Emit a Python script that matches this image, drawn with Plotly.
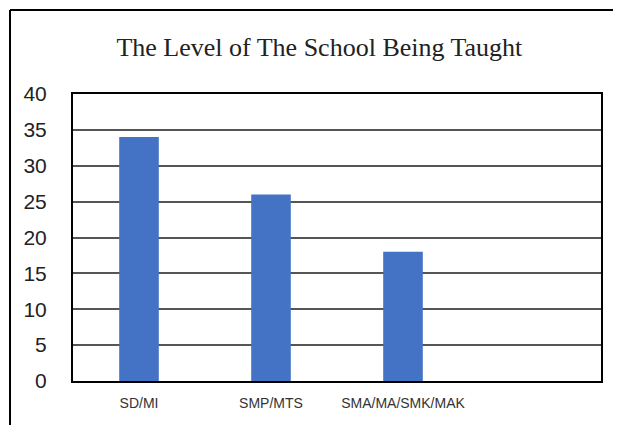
import plotly.graph_objects as go

levels = ["SD/MI", "SMP/MTS", "SMA/MA/SMK/MAK"]
teachers = [34, 26, 18]
y_ticks = [0, 5, 10, 15, 20, 25, 30, 35, 40]

fig = go.Figure()
fig.add_trace(
    go.Bar(
        x=list(range(len(levels))),
        y=teachers,
        width=0.3,
        marker=dict(color="#4472C4", line=dict(width=0)),
    )
)

# outer frame (only the left and top edges show)
frame = dict(color="black", width=2)
fig.add_shape(type="line", xref="paper", yref="paper", x0=-0.1193, x1=-0.1193, y0=1.2927, y1=-0.2, line=frame)
fig.add_shape(type="line", xref="paper", yref="paper", x0=-0.1193, x1=1.1, y0=1.2927, y1=1.2927, line=frame)

# page body has an 8px margin, so the figure is sized to fill the rest of the window
fig.update_layout(
    width=613,
    height=417,
    margin=dict(l=65, r=20, t=86, b=44),
    paper_bgcolor="white",
    plot_bgcolor="white",
    showlegend=False,
    title=dict(
        text="The Level of The School Being Taught",
        font=dict(family="Liberation Serif", size=26, color="#222"),
        x=0.508,
        xanchor="center",
        y=1 - 39 / 417,
        yanchor="middle",
    ),
    xaxis=dict(
        range=[-0.5, 3.5],
        tickvals=list(range(len(levels))),
        ticktext=levels,
        tickfont=dict(family="Liberation Sans", size=14, color="#333"),
        showgrid=False,
        zeroline=False,
        showline=True,
        linecolor="black",
        linewidth=2,
        mirror=True,
        ticks="",
        ticklabelstandoff=8,
    ),
    yaxis=dict(
        range=[0, 40],
        tickvals=y_ticks,
        tickfont=dict(family="Liberation Sans", size=21, color="#222"),
        showgrid=True,
        gridcolor="#555",
        gridwidth=1.5,
        zeroline=False,
        showline=True,
        linecolor="black",
        linewidth=2,
        mirror=True,
        ticks="",
        ticklabelstandoff=20,
    ),
)

fig.write_html("out.html")
